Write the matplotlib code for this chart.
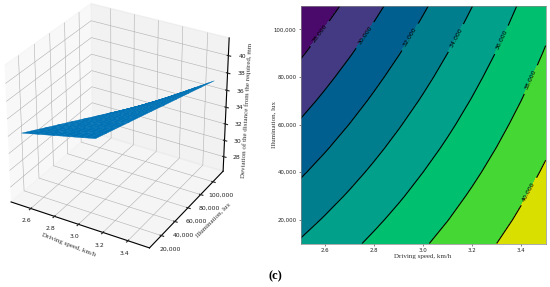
#!/usr/bin/env python3
"""Response surface and contour map of distance deviation vs speed and illumination."""

import numpy as np
import matplotlib
matplotlib.use('Agg')
import matplotlib.pyplot as plt
from matplotlib.ticker import FuncFormatter

speed = [2.5, 2.6, 2.7, 2.8, 2.9, 3.0, 3.1, 3.2, 3.3, 3.4, 3.5]
illumination = [10000, 20000, 30000, 40000, 50000, 60000, 70000, 80000, 90000, 100000, 110000]
# rows follow illumination, columns follow speed
deviation = [
    [34.18, 34.91, 35.63, 36.36, 37.09, 37.82, 38.54, 39.27, 40.00, 40.72, 41.45],
    [33.38, 34.15, 34.91, 35.68, 36.44, 37.21, 37.97, 38.74, 39.50, 40.27, 41.03],
    [32.59, 33.39, 34.19, 34.99, 35.80, 36.60, 37.41, 38.21, 39.01, 39.82, 40.62],
    [31.79, 32.63, 33.47, 34.31, 35.16, 36.00, 36.84, 37.68, 38.52, 39.36, 40.21],
    [30.99, 31.87, 32.75, 33.63, 34.51, 35.39, 36.27, 37.15, 38.03, 38.91, 39.79],
    [30.20, 31.11, 32.03, 32.95, 33.87, 34.79, 35.70, 36.62, 37.54, 38.46, 39.38],
    [29.40, 30.35, 31.31, 32.27, 33.22, 34.18, 35.14, 36.09, 37.05, 38.00, 38.96],
    [28.60, 29.60, 30.59, 31.59, 32.58, 33.57, 34.57, 35.56, 36.56, 37.55, 38.55],
    [27.80, 28.84, 29.87, 30.90, 31.93, 32.97, 34.00, 35.03, 36.06, 37.10, 38.13],
    [27.01, 28.08, 29.15, 30.22, 31.29, 32.36, 33.43, 34.50, 35.57, 36.64, 37.72],
    [26.21, 27.32, 28.43, 29.54, 30.65, 31.76, 32.86, 33.97, 35.08, 36.19, 37.30],
]
levels = [26, 28, 30, 32, 34, 36, 38, 40, 42]
band_colors = ['#4a0a6c', '#443a84', '#005f8e', '#007e8e',
               '#00a08a', '#00c070', '#45d835', '#d9e000']
# where each contour carries its label
label_spots = [(2.583, 97800), (2.763, 97500), (2.946, 96800), (3.133, 96400),
               (3.317, 95700), (3.439, 78900), (3.429, 32000)]

SURFACE_COLOR = '#0072b5'
LABEL_GREY = '#333333'
W, H = 550, 287

X, Y = np.meshgrid(speed, illumination)
Z = np.array(deviation)
thousands = FuncFormatter(lambda v, _: f"{int(v):,}")

fig = plt.figure(figsize=(W / 100, H / 100), dpi=100, facecolor='white')

# left panel: 3D surface, box stretched taller than the mplot3d default
ax3d = fig.add_axes([-0.017, 0.132, 0.4545, 0.871], projection='3d')
ax3d.set_box_aspect((4, 4, 3.9), zoom=1.065)
ax3d.plot_surface(X, Y, Z, color=SURFACE_COLOR, edgecolor=SURFACE_COLOR, shade=False,
                  linewidth=0.3, antialiased=True)
# the surface sits inside the box, with room on each side
ax3d.set_xlim(2.43, 3.57)
ax3d.set_ylim(3000, 117000)
ax3d.set_zlim(26.2, 42)
ax3d.set_xticks([2.6, 2.8, 3.0, 3.2, 3.4])
ax3d.set_yticks([20000, 40000, 60000, 80000, 100000])
ax3d.set_zticks([28, 30, 32, 34, 36, 38, 40])
ax3d.yaxis.set_major_formatter(thousands)
ax3d.tick_params(labelsize=4.4, length=2, width=0.4, colors='#222222')
ax3d.tick_params(axis='x', pad=-3.5)
ax3d.tick_params(axis='y', pad=-2)
ax3d.tick_params(axis='z', pad=-2)
for axis in (ax3d.xaxis, ax3d.yaxis, ax3d.zaxis):
    axis._axinfo['grid']['linewidth'] = 0.4
    axis._axinfo['axisline']['linewidth'] = 0.4

# mplot3d pins its axis labels to the middle of each edge, so place them by hand
for txt, px, py, angle in [('Driving speed, km/h', 69, 245, -21),
                           ('Illumination, lux', 213, 220, 45),
                           ('Deviation of the distance from the required, mm', 247, 110, 87)]:
    fig.text(px / W, 1 - py / H, txt, family='Liberation Serif', fontsize=5, color=LABEL_GREY,
             rotation=angle, rotation_mode='anchor', ha='center', va='center')

# right panel: filled contours
ax = fig.add_axes([(275 + 77 / 3) / W, 1 - 243.5 / H, 245 / W, 238 / H])
ax.contourf(X, Y, Z, levels=levels, colors=band_colors)
lines = ax.contour(X, Y, Z, levels=levels[1:-1], colors='black', linewidths=0.8)
ax.clabel(lines, fmt=lambda v: f"{v:.3f}", fontsize=4.5, inline=True, manual=label_spots)
ax.set_xlim(2.5, 3.5)
ax.set_ylim(10000, 110000)
ax.set_xticks([2.6, 2.8, 3.0, 3.2, 3.4])
ax.set_yticks([20000, 40000, 60000, 80000, 100000])
ax.yaxis.set_major_formatter(thousands)
ax.tick_params(labelsize=3.9, length=1.5, width=0.4, pad=1.5, colors='#222222')
for spine in ax.spines.values():
    spine.set_linewidth(0.5)
    spine.set_color('#888888')
ax.set_xlabel('Driving speed, km/h', family='Liberation Serif', fontsize=5, labelpad=1, color=LABEL_GREY)
ax.set_ylabel('Illumination, lux', family='Liberation Serif', fontsize=5, labelpad=-2, color=LABEL_GREY)

fig.text(0.5, 0.038, '(c)', family='Liberation Serif', fontweight='bold', fontsize=9,
         ha='center', va='center', color='black')

fig.savefig('out.png', dpi=100, facecolor='white')
